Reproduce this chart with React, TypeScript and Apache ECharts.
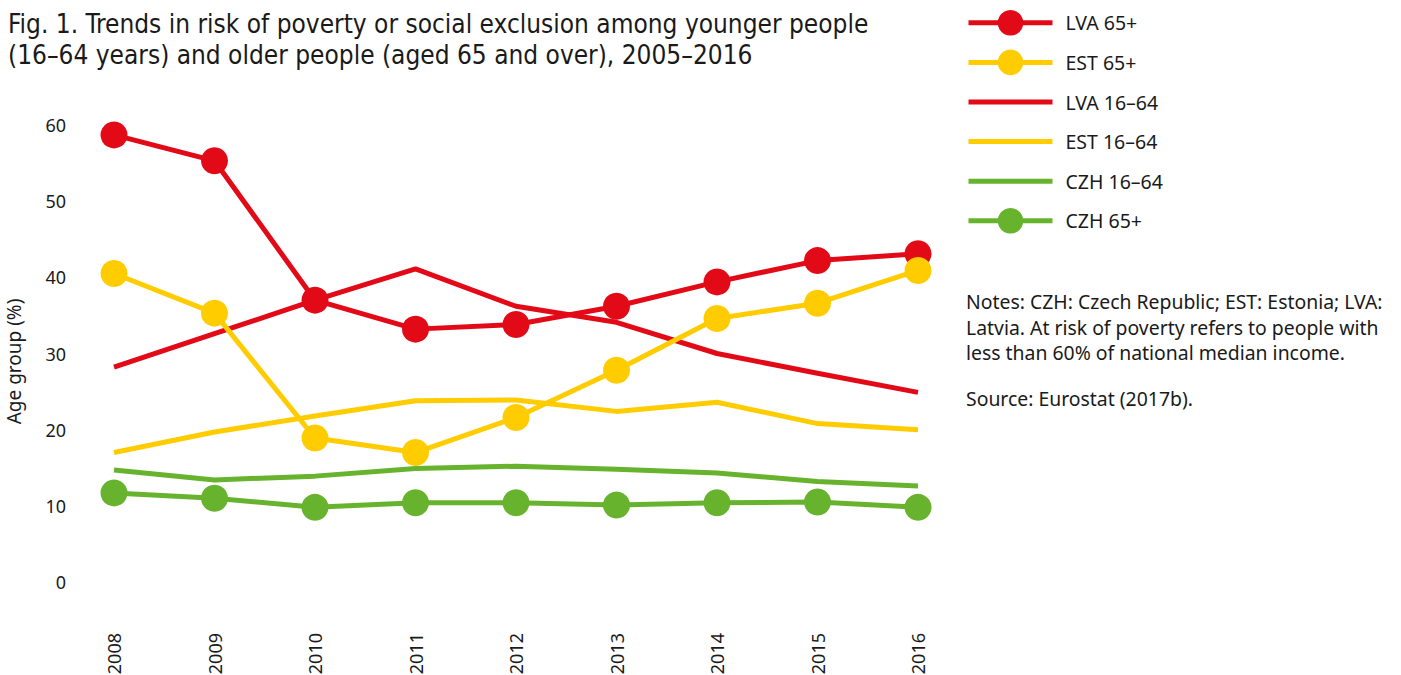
import React, { useEffect, useRef } from "react";
import * as echarts from "echarts";

const years = ["2008", "2009", "2010", "2011", "2012", "2013", "2014", "2015", "2016"];
const lva65 = [58.7, 55.3, 37.0, 33.2, 33.8, 36.2, 39.4, 42.2, 43.1];
const est65 = [40.5, 35.3, 18.9, 17.0, 21.6, 27.8, 34.6, 36.6, 40.9];
const lva1664 = [28.2, 32.6, 37.0, 41.1, 36.2, 34.1, 30.0, 27.4, 24.9];
const est1664 = [17.0, 19.7, 21.8, 23.8, 23.9, 22.4, 23.6, 20.8, 20.0];
const czh1664 = [14.7, 13.4, 13.9, 14.9, 15.2, 14.8, 14.3, 13.2, 12.6];
const czh65 = [11.7, 11.0, 9.8, 10.4, 10.4, 10.1, 10.4, 10.5, 9.8];
const yTicks = [0, 10, 20, 30, 40, 50, 60];

const RED = "#E30A17";
const YELLOW = "#FFCC00";
const GREEN = "#67B32E";
const TEXT = "#1a1a1a";
const FONT = "'Noto Sans', sans-serif";

const titleText =
  "Fig. 1. Trends in risk of poverty or social exclusion among younger people\n(16\u201364 years) and older people (aged 65 and over), 2005\u20132016";
const notesText =
  "Notes: CZH: Czech Republic; EST: Estonia; LVA:\nLatvia. At risk of poverty refers to people with\nless than 60% of national median income.";
const sourceText = "Source: Eurostat (2017b).";

export default function App() {
  const ref = useRef<HTMLDivElement>(null);
  useEffect(() => {
    if (!ref.current) return;
    const chart = echarts.init(ref.current, null, { renderer: "svg" });
    const lineSeries = (name: string, data: number[], color: string, marker: boolean, z: number) => ({
      name,
      type: "line",
      data,
      z,
      symbol: marker ? "circle" : "none",
      showSymbol: marker,
      symbolSize: 27,
      itemStyle: { color },
      lineStyle: { color, width: 5 },
      emphasis: { disabled: true },
    });
    const noSym = (name: string) => ({ name, itemStyle: { opacity: 0 } });
    chart.setOption({
      animation: false,
      textStyle: { fontFamily: FONT },
      grid: { left: 114, right: 483, top: 125, bottom: 93, containLabel: false, outerBoundsMode: "none" },
      title: {
        text: titleText,
        left: 8,
        top: 8,
        padding: 0,
        textStyle: {
          fontFamily: "'Liberation Sans Narrow', 'DejaVu Sans Condensed', sans-serif",
          fontWeight: "normal",
          fontSize: 26,
          lineHeight: 31,
          color: TEXT,
        },
      },
      legend: {
        orient: "vertical",
        left: 966,
        top: 10,
        padding: 0,
        itemWidth: 84,
        itemHeight: 32,
        itemGap: 14,
        lineStyle: { width: 5 },
        data: [
          "LVA 65+",
          "EST 65+",
          noSym("LVA 16\u201364"),
          noSym("EST 16\u201364"),
          noSym("CZH 16\u201364"),
          "CZH 65+",
        ],
        textStyle: { fontFamily: FONT, fontSize: 19.5, color: TEXT, padding: [0, 0, 0, 8] },
        selectedMode: false,
      },
      xAxis: {
        type: "category",
        data: years,
        boundaryGap: false,
        axisLine: { show: false },
        axisTick: { show: false },
        splitLine: { show: false },
        axisLabel: { rotate: 90, margin: 51, fontSize: 18, color: TEXT, fontFamily: FONT },
      },
      yAxis: {
        type: "value",
        min: yTicks[0],
        max: yTicks[yTicks.length - 1],
        interval: 10,
        name: "Age group (%)",
        nameLocation: "middle",
        nameGap: 91,
        nameTextStyle: { fontSize: 19, color: TEXT, fontFamily: FONT, padding: [0, 0, 0, -16] },
        axisLine: { show: false },
        axisTick: { show: false },
        splitLine: { show: false },
        axisLabel: { margin: 48, fontSize: 18, color: TEXT, fontFamily: FONT },
      },
      series: [
        lineSeries("LVA 16\u201364", lva1664, RED, false, 2),
        lineSeries("EST 16\u201364", est1664, YELLOW, false, 2),
        lineSeries("CZH 16\u201364", czh1664, GREEN, false, 2),
        lineSeries("LVA 65+", lva65, RED, true, 3),
        lineSeries("EST 65+", est65, YELLOW, true, 4),
        lineSeries("CZH 65+", czh65, GREEN, true, 3),
      ],
      graphic: [
        {
          type: "text",
          left: 966,
          top: 289,
          style: { text: notesText, font: `19.4px ${FONT}`, fill: TEXT, lineHeight: 25.5 },
        },
        {
          type: "text",
          left: 966,
          top: 386,
          style: { text: sourceText, font: `19.4px ${FONT}`, fill: TEXT, lineHeight: 25.5 },
        },
      ],
    });
    return () => chart.dispose();
  }, []);
  return (
    <div
      ref={ref}
      style={{ position: "fixed", left: 0, top: 0, width: 1401, height: 675, background: "#fff" }}
    />
  );
}
